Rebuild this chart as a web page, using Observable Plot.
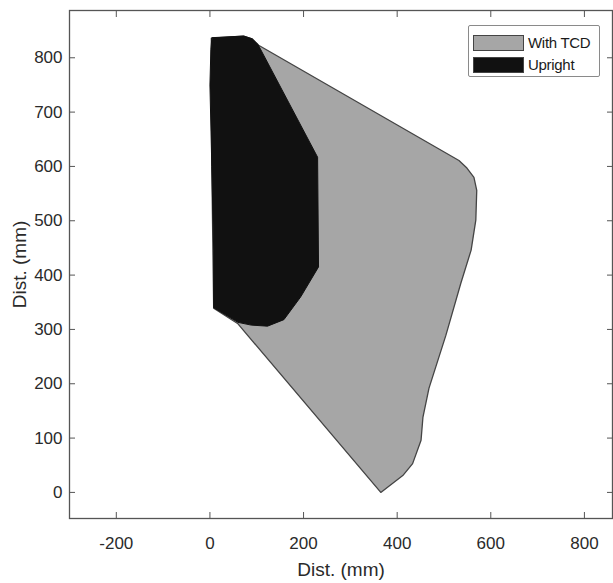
<!DOCTYPE html>
<html>
<head>
<meta charset="utf-8">
<script src="https://cdn.jsdelivr.net/npm/d3@7"></script>
<script src="https://cdn.jsdelivr.net/npm/@observablehq/plot@0.6"></script>
<style>
  body { margin: 0; background: #fff; font-family: "Liberation Sans", Arial, sans-serif; }
  #wrap { position: relative; width: 613px; height: 583px; }
  .legend { position: absolute; left: 468px; top: 25px; width: 132px; height: 52px;
            border: 1px solid #8a8a8a; border-radius: 2px; background: #fff; box-sizing: border-box;
            padding: 6px 0 0 4px; }
  .row { display: flex; align-items: center; height: 21px; margin-bottom: 1px; }
  .sw { width: 51px; height: 16px; box-sizing: border-box; border: 1px solid #444; margin-right: 4px; }
  .lab { font-size: 15px; color: #1a1a1a; letter-spacing: -0.3px; }
</style>
</head>
<body>
<div id="wrap"></div>
<script>
// Tick values
const xTicks = [-200, 0, 200, 400, 600, 800];
const yTicks = [0, 100, 200, 300, 400, 500, 600, 700, 800];

// Series names
const seriesNames = ["With TCD", "Upright"];

// "With TCD" region outline (mm)
const withTcdX = [104, 532, 549, 564, 570, 568, 558, 536, 504, 468, 455, 451, 433, 412, 365, 59, 8, 4, 3, 72, 90];
const withTcdY = [823, 611, 597, 580, 556, 501, 446, 385, 289, 192, 138, 96, 53, 31, 0, 311, 339, 600, 836, 840, 835];

// "Upright" region outline (mm)
const uprightX = [5, 72, 90, 103, 230, 232, 194, 158, 123, 88, 60, 8, 8, 4, 0, 2];
const uprightY = [837, 840, 835, 824, 617, 415, 360, 318, 306, 308, 313, 340, 446, 600, 750, 815];

const colors = {"With TCD": "#a6a6a6", "Upright": "#111111"};
const strokes = {"With TCD": "#444444", "Upright": "#111111"};

const tcd = withTcdX.map((x, i) => ({x, y: withTcdY[i], s: seriesNames[0]}));
const upr = uprightX.map((x, i) => ({x, y: uprightY[i], s: seriesNames[1]}));

const fmt = d => String(d);

const plot = Plot.plot({
  width: 613,
  height: 583,
  marginTop: 10,
  marginRight: 1,
  marginBottom: 65,
  marginLeft: 69,
  x: {domain: [-300, 860]},
  y: {domain: [-48, 887]},
  style: {fontFamily: "'Liberation Sans', Arial, sans-serif", fontSize: "17px", color: "#2a2a2a", background: "#fff", overflow: "visible"},
  marks: [
    Plot.line(tcd, {x: "x", y: "y", curve: "linear-closed", fill: colors["With TCD"], stroke: strokes["With TCD"], strokeWidth: 1.3}),
    Plot.line(upr, {x: "x", y: "y", curve: "linear-closed", fill: colors["Upright"], stroke: strokes["Upright"], strokeWidth: 1}),
    Plot.frame({stroke: "#555", strokeWidth: 1.3}),
    Plot.axisX(xTicks, {anchor: "bottom", tickSize: -6, tickPadding: 24, tickFormat: fmt, label: null, stroke: "#555", fontSize: 17}),
    Plot.axisX([], {anchor: "bottom", tickSize: 0, label: "Dist. (mm)", labelAnchor: "center", labelArrow: "none", labelOffset: 57, fontSize: 19}),
    Plot.axisX(xTicks, {anchor: "top", tickSize: -6, tickFormat: () => "", label: null, stroke: "#555"}),
    Plot.axisY(yTicks, {anchor: "left", tickSize: -6, tickPadding: 13, tickFormat: fmt, label: null, stroke: "#555", fontSize: 17}),
    Plot.axisY([], {anchor: "left", tickSize: 0, label: "Dist. (mm)", labelAnchor: "center", labelArrow: "none", labelOffset: 57, fontSize: 19}),
    Plot.axisY(yTicks, {anchor: "right", tickSize: -6, tickFormat: () => "", label: null, stroke: "#555"})
  ]
});

const wrap = document.getElementById("wrap");
wrap.appendChild(plot);

const legend = document.createElement("div");
legend.className = "legend";
seriesNames.forEach(name => {
  const row = document.createElement("div");
  row.className = "row";
  const sw = document.createElement("div");
  sw.className = "sw";
  sw.style.background = colors[name];
  const lab = document.createElement("span");
  lab.className = "lab";
  lab.textContent = name;
  row.appendChild(sw);
  row.appendChild(lab);
  legend.appendChild(row);
});
wrap.appendChild(legend);
</script>
</body>
</html>
